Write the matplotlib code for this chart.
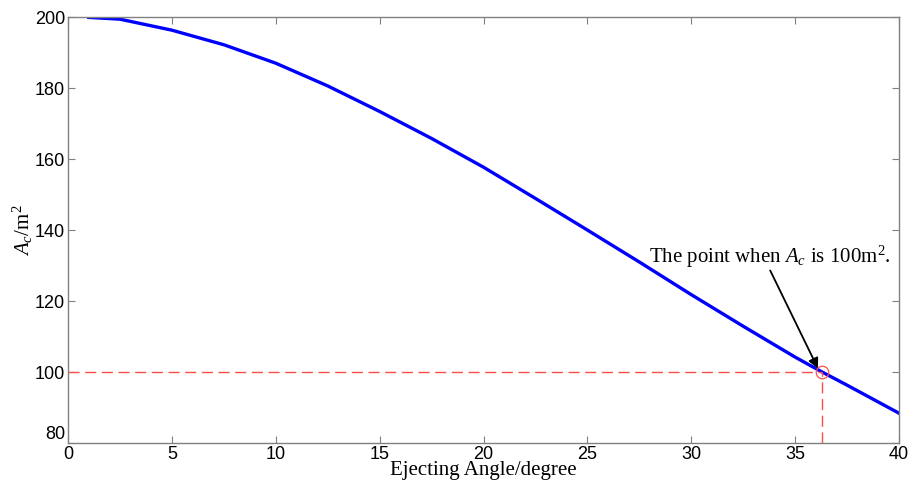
import matplotlib
matplotlib.use('Agg')
import matplotlib.pyplot as plt

#### DATA ##########
angle = [1, 2.5, 5, 7.5, 10, 12.5, 15, 17.5, 20, 22.5, 25, 27.5, 30, 32.5, 35, 36.3, 37.5, 40]
area = [199.9, 199.4, 196.3, 192.2, 187.0, 180.6, 173.4, 165.8, 157.7, 148.9,
        140.0, 131.0, 121.8, 112.9, 104.2, 100.0, 96.3, 88.4]

x_hit = 36.3
y_hit = 100
note = r'The point when $A_c$ is 100m$^2$.'

##### PLOT ######
plt.rcParams['mathtext.fontset'] = 'custom'
plt.rcParams['mathtext.rm'] = 'Liberation Serif'
plt.rcParams['mathtext.it'] = 'Liberation Serif:italic'

fig = plt.figure(figsize=(9.14, 4.87), dpi=100)
ax = fig.add_axes([0.0744, 0.0903, 0.9092, 0.8747])

ax.plot(angle, area, color='#0000ff', lw=2.4, solid_joinstyle='round')
ax.plot([0, x_hit], [y_hit, y_hit], color='#ff4d4d', lw=1, dashes=(8, 4))
ax.plot([x_hit, x_hit], [80, y_hit], color='#ff4d4d', lw=1, dashes=(8, 4))
ax.plot([x_hit], [y_hit], 'o', mfc='none', mec='#ff4d4d', ms=9, mew=0.9)

ax.text(33.8, 130.9, note, ha='center', va='baseline', fontsize=15, family='Liberation Serif')
ax.annotate('', xy=(36.1, 101.0), xytext=(33.8, 128.6),
            arrowprops=dict(arrowstyle='-|>', color='black', lw=1.3,
                            mutation_scale=15, shrinkA=0, shrinkB=0))

ax.set_xlim(0, 40)
ax.set_ylim(80, 200)
ax.set_xticks(range(0, 41, 5))
ax.set_yticks(range(80, 201, 20))
ax.tick_params(direction='in', top=True, right=True, length=5, color='#808080',
               labelsize=13, pad=2)
for lab in ax.get_xticklabels() + ax.get_yticklabels():
    lab.set_family('Liberation Sans')
# lowest y label sits a bit higher, like matlab
ax.get_yticklabels()[0].set_va('bottom')
for s in ax.spines.values():
    s.set_color('#808080')
    s.set_linewidth(1)

ax.set_xlabel('Ejecting Angle/degree', family='Liberation Serif', fontsize=15, labelpad=-1)
ax.set_ylabel(r'$A_c$/m$^2$', family='Liberation Serif', fontsize=15, labelpad=0)

fig.savefig('out.png', dpi=100)
